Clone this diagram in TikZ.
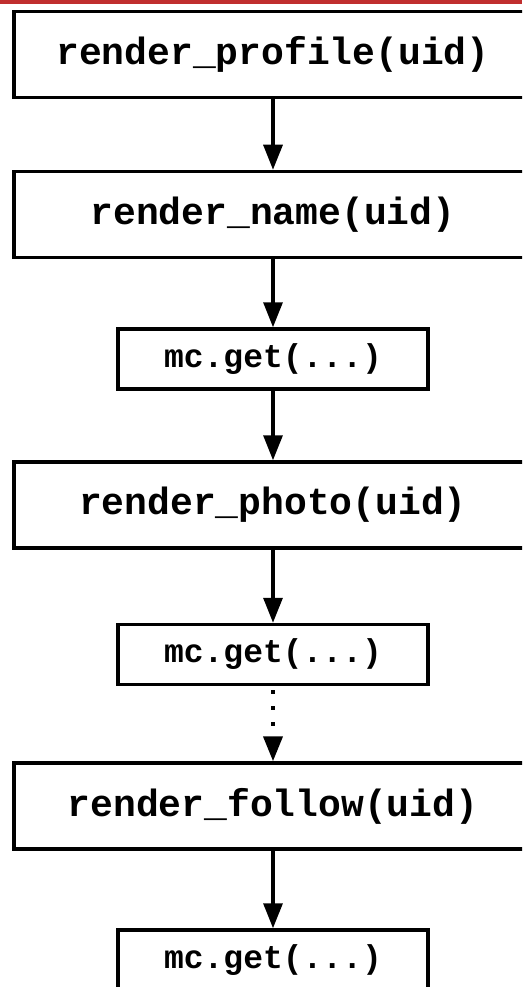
\documentclass[tikz,border=0pt]{standalone}
\usepackage{fontspec}
\setmonofont{Liberation Mono}
\usetikzlibrary{arrows.meta}
\definecolor{topred}{RGB}{192,46,46}
\tikzset{
  bigbox/.style={draw, line width=3.5pt, minimum width=518pt, minimum height=86pt, inner sep=0pt,
    font=\ttfamily\bfseries\fontsize{38}{38}\selectfont},
  smallbox/.style={draw, line width=3.5pt, minimum width=310pt, minimum height=60pt, inner sep=0pt,
    font=\ttfamily\bfseries\fontsize{33}{33}\selectfont},
  conn/.style={line width=3.2pt, -{Triangle[length=25pt,width=19pt]}},
  dotconn/.style={line width=4pt, dash pattern=on 4pt off 12pt, dash phase=-4pt,
    -{Triangle[length=25pt,width=19pt,sep=0pt]}}
}
\begin{document}
\begin{tikzpicture}[x=1pt,y=-1pt]
\useasboundingbox (0,0) rectangle (522,987);
\clip (0,0) rectangle (522,987);
\fill[topred] (0,0) rectangle (522,4);
\node[bigbox] (profile) at (273,54.5) {render\_profile(uid)};
\node[bigbox] (name) at (273,214.5) {render\_name(uid)};
\node[smallbox] (mc1) at (273,359) {mc.get(...)};
\node[bigbox] (photo) at (273,505) {render\_photo(uid)};
\node[smallbox] (mc2) at (273,654.5) {mc.get(...)};
\node[bigbox] (follow) at (273,806) {render\_follow(uid)};
\node[smallbox] (mc3) at (273,960) {mc.get(...)};
\draw[conn] (profile) -- (name);
\draw[conn] (name) -- (mc1);
\draw[conn] (mc1) -- (photo);
\draw[conn] (photo) -- (mc2);
\draw[dotconn] (mc2) -- (follow);
\draw[conn] (follow) -- (mc3);
\end{tikzpicture}
\end{document}
